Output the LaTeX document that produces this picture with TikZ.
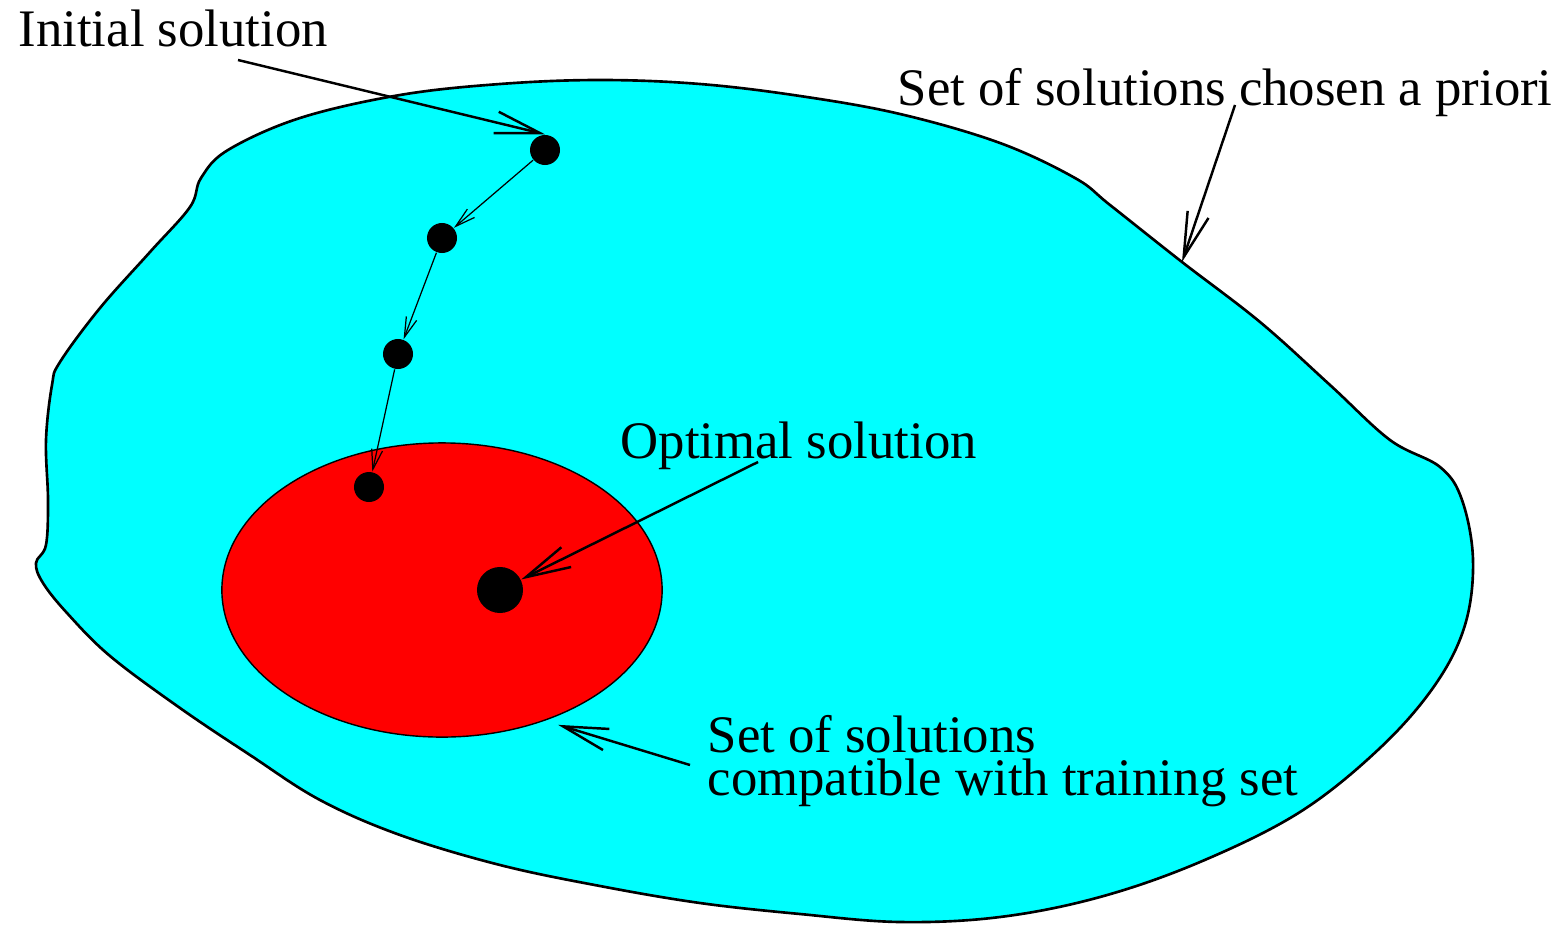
\documentclass[tikz,border=0pt]{standalone}
\usepackage{fontspec}
\setmainfont{Liberation Serif}
\usetikzlibrary{arrows.meta, shapes.geometric}
\definecolor{setCyan}{HTML}{00FFFF}
\definecolor{setRed}{HTML}{FF0000}

\begin{document}
\begin{tikzpicture}[
    x=0.01cm, y=-0.01cm,
    dot/.style={circle, fill=black, minimum size=0.3cm, inner sep=0pt},
    note/.style={font=\fontsize{15}{12.2}\selectfont, inner sep=0pt,
                 anchor=base west, align=left},
    callout/.style={line width=0.7pt, -{Straight Barb[length=4.5mm, width=2.2mm]}},
    hop/.style={line width=0.35pt, -{Straight Barb[length=2mm, width=1.1mm]}},
  ]
  \useasboundingbox (0,0) rectangle (1561,924);

  % set of solutions chosen a priori
  \draw[line width=0.75pt, fill=setCyan] plot[smooth cycle, tension=0.6] coordinates {
    (52,385) (60,362) (100,308) (150,252) (190,207) (201,178) (228,150)
    (300,118) (400,95) (500,84) (600,80) (700,84) (800,96) (900,114)
    (1000,143) (1075,178) (1110,205) (1182,262) (1260,322) (1330,385)
    (1390,440) (1440,467) (1462,500) (1473,560) (1465,625) (1435,685)
    (1380,748) (1300,812) (1200,862) (1100,897) (1000,917) (900,922)
    (800,914) (700,903) (600,886) (500,865) (400,835) (320,800) (250,755)
    (180,708) (110,656) (67,613) (43,583) (36,563) (46,545) (48,500) (46,440)};

  % solutions compatible with the training set
  \node[ellipse, draw, line width=0.4pt, fill=setRed, minimum width=4.4cm,
        minimum height=2.94cm, inner sep=0pt] (compat) at (442,590) {};

  \node[dot] (d1) at (545,150) {};
  \node[dot] (d2) at (442,238) {};
  \node[dot] (d3) at (398,354) {};
  \node[dot] (d4) at (369,487) {};
  \node[dot, minimum size=0.46cm] (opt) at (500,590) {};

  \node[note] (init) at (18,47) {Initial solution};
  \node[note] (apriori) at (897,105) {Set of solutions chosen a priori};
  \node[note] (optlbl) at (620,458) {Optimal solution};
  \node[note] (complbl) at (707,795) {Set of solutions\\compatible with training set};

  \coordinate (initfoot) at (238,60);
  \coordinate (apriorifoot) at (1235,105);
  \coordinate (aprioriedge) at (1182,262);
  \coordinate (optfoot) at (758,462);
  \coordinate (compfoot) at (690,765);

  \draw[callout] (initfoot) -- (d1.north);
  \draw[callout] (apriorifoot) -- (aprioriedge);
  \draw[callout] (optfoot) -- (opt);
  \draw[callout] (compfoot) -- ([shift={(8,6)}]compat.-50);

  \draw[hop] (d1) -- (d2);
  \draw[hop] (d2) -- (d3);
  \draw[hop] (d3) -- (d4);
\end{tikzpicture}
\end{document}
